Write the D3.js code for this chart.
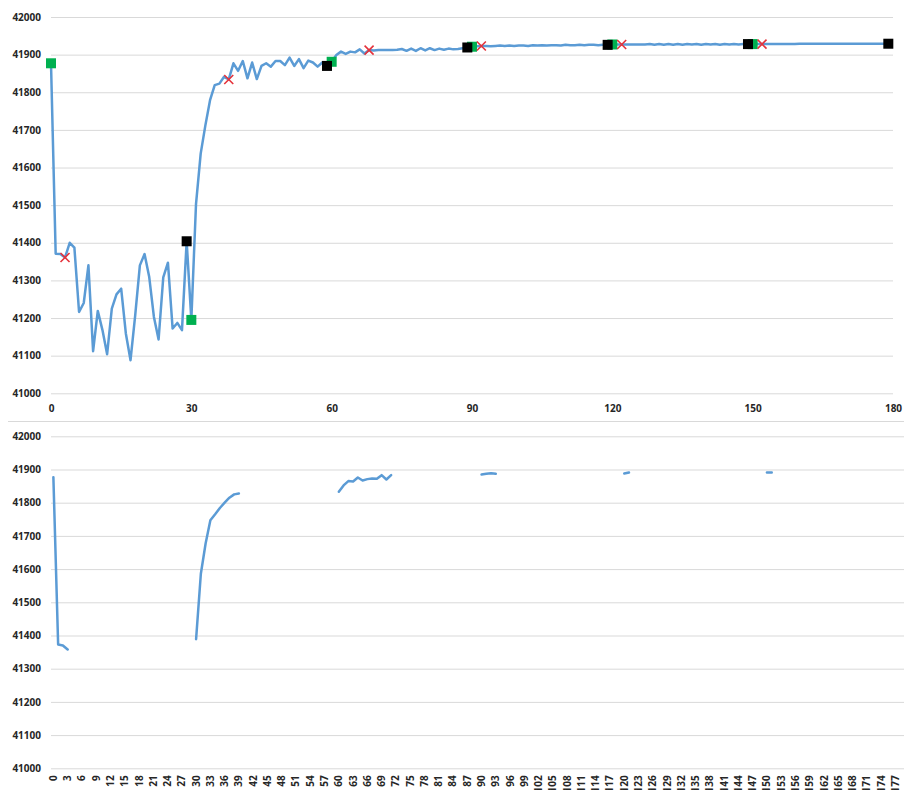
<!DOCTYPE html>
<html>
<head>
<meta charset="utf-8">
<script src="https://cdn.jsdelivr.net/npm/d3@7"></script>
<style>
  html, body { margin: 0; padding: 0; background: #fff; overflow: hidden; }
  svg { display: block; }
  .tick text { font-family: "Open Sans", sans-serif; font-weight: 700; font-size: 10px; fill: #262626; }
  .grid line { stroke: #d9d9d9; stroke-width: 1; }
</style>
</head>
<body>
<div id="chart"></div>
<script>
// upper chart: one value per step 0..179
const upperValues = [
  41877, 41371, 41370, 41361, 41400, 41387, 41216, 41240, 41340, 41112,
  41219, 41168, 41104, 41225, 41263, 41278, 41159, 41088, 41207, 41340,
  41370, 41309, 41203, 41143, 41308, 41347, 41172, 41187, 41168, 41404,
  41195, 41503, 41637, 41712, 41779, 41819, 41823, 41841, 41834, 41877,
  41857, 41883, 41837, 41879, 41835, 41870, 41877, 41868, 41883, 41883,
  41872, 41892, 41870, 41888, 41864, 41884, 41879, 41868, 41879, 41870,
  41881, 41899, 41908, 41902, 41908, 41906, 41914, 41903, 41912, 41911,
  41912, 41912, 41912, 41912, 41913, 41915, 41910, 41916, 41910, 41917,
  41911, 41917, 41912, 41916, 41913, 41916, 41914, 41915, 41917, 41919,
  41921, 41922, 41923, 41923, 41922, 41923, 41924, 41923, 41924, 41923,
  41924, 41924, 41923, 41925, 41924, 41925, 41924, 41925, 41925, 41924,
  41926, 41925, 41925, 41926, 41925, 41926, 41926, 41925, 41926, 41926,
  41927, 41927, 41927, 41927, 41927, 41927, 41927, 41927, 41928, 41926,
  41928, 41926, 41928, 41926, 41928, 41926, 41928, 41927, 41928, 41926,
  41928, 41927, 41928, 41926, 41928, 41927, 41928, 41927, 41928, 41928,
  41928, 41928, 41928, 41928, 41928, 41928, 41928, 41928, 41928, 41928,
  41929, 41929, 41929, 41929, 41929, 41929, 41929, 41929, 41929, 41929,
  41929, 41929, 41929, 41929, 41929, 41929, 41929, 41929, 41929, 41929
];
const greenIdx = [0, 30, 60, 90, 120, 150];
const blackIdx = [29, 59, 89, 119, 149, 179];
const crossIdx = [3, 38, 68, 92, 122, 152];
const upperXTicks = [0, 30, 60, 90, 120, 150, 180];
const yTicks = [41000, 41100, 41200, 41300, 41400, 41500, 41600, 41700, 41800, 41900, 42000];

// lower chart: short runs of values, each starting at a category
const lowerStarts = [0, 30, 60, 90, 120, 150];
const lowerRun0 = [41877, 41373, 41370, 41358];
const lowerRun1 = [41389, 41586, 41677, 41747, 41765, 41784, 41800, 41815, 41825, 41828];
const lowerRun2 = [41833, 41852, 41865, 41864, 41876, 41867, 41871, 41873, 41872, 41883, 41870, 41883];
const lowerRun3 = [41885, 41887, 41889, 41887];
const lowerRun4 = [41888, 41891];
const lowerRun5 = [41891, 41891];
const lowerRuns = [lowerRun0, lowerRun1, lowerRun2, lowerRun3, lowerRun4, lowerRun5];
const lowerCategories = d3.range(180);

const W = 904, H = 790;
const lineColor = "#5b9bd5";

const svg = d3.select("#chart").append("svg")
  .attr("width", W)
  .attr("height", H);

// ---------- upper chart ----------
const x1 = d3.scaleLinear().domain([0, 180]).range([51, 893]);
const y1 = d3.scaleLinear().domain([41000, 42000]).range([393.3, 17]);

svg.append("g")
  .attr("class", "grid")
  .attr("transform", `translate(${x1(0)},0)`)
  .call(d3.axisLeft(y1).tickValues(yTicks).tickFormat(d3.format("d"))
    .tickSizeInner(-(x1(180) - x1(0))).tickSizeOuter(0).tickPadding(10))
  .call(g => g.select(".domain").remove());

svg.append("g")
  .attr("transform", `translate(0,${y1(41000)})`)
  .call(d3.axisBottom(x1).tickValues(upperXTicks).tickFormat(d3.format("d"))
    .tickSize(0).tickPadding(12))
  .call(g => g.select(".domain").remove());

const upperLine = d3.line()
  .x((d, i) => x1(i))
  .y(d => y1(d));

svg.append("path")
  .datum(upperValues)
  .attr("d", upperLine)
  .attr("fill", "none")
  .attr("stroke", lineColor)
  .attr("stroke-width", 2.5)
  .attr("stroke-linejoin", "round");

const sq = 10;
svg.selectAll(".green")
  .data(greenIdx)
  .enter().append("rect")
  .attr("x", d => x1(d) - sq / 2)
  .attr("y", d => y1(upperValues[d]) - sq / 2)
  .attr("width", sq).attr("height", sq)
  .attr("fill", "#00b050");

svg.selectAll(".black")
  .data(blackIdx)
  .enter().append("rect")
  .attr("x", d => x1(d) - sq / 2)
  .attr("y", d => y1(upperValues[d]) - sq / 2)
  .attr("width", sq).attr("height", sq)
  .attr("fill", "#000");

const cr = 4.5;
svg.selectAll(".cross")
  .data(crossIdx)
  .enter().append("path")
  .attr("d", d => {
    const cx = x1(d), cy = y1(upperValues[d]);
    return `M${cx - cr},${cy - cr}L${cx + cr},${cy + cr}M${cx - cr},${cy + cr}L${cx + cr},${cy - cr}`;
  })
  .attr("stroke", "#e5323b")
  .attr("stroke-width", 1.6)
  .attr("fill", "none");

// divider between the two charts
svg.append("line")
  .attr("x1", 8).attr("x2", W)
  .attr("y1", 421.5).attr("y2", 421.5)
  .attr("stroke", "#d9d9d9");

// ---------- lower chart ----------
const x2 = d3.scaleBand().domain(lowerCategories).range([51, 907.3]);
const y2 = d3.scaleLinear().domain([41000, 42000]).range([768.3, 436.3]);

svg.append("g")
  .attr("class", "grid")
  .attr("transform", "translate(51,0)")
  .call(d3.axisLeft(y2).tickValues(yTicks).tickFormat(d3.format("d"))
    .tickSizeInner(-(907.3 - 51)).tickSizeOuter(0).tickPadding(10))
  .call(g => g.select(".domain").remove());

svg.append("g")
  .attr("transform", `translate(0,${y2(41000)})`)
  .call(d3.axisBottom(x2).tickValues(lowerCategories.filter(d => d % 3 === 0))
    .tickSize(0))
  .call(g => g.select(".domain").remove())
  .call(g => g.selectAll("text")
    .attr("transform", "rotate(-90)")
    .attr("text-anchor", "end")
    .attr("x", -7)
    .attr("y", 0)
    .attr("dy", "0.35em"));

const lowerLine = d3.line()
  .x(d => x2(d[0]) + x2.bandwidth() / 2)
  .y(d => y2(d[1]));

lowerRuns.forEach((run, k) => {
  const pts = run.map((v, i) => [lowerStarts[k] + i, v]);
  svg.append("path")
    .datum(pts)
    .attr("d", lowerLine)
    .attr("fill", "none")
    .attr("stroke", lineColor)
    .attr("stroke-width", 2.5)
    .attr("stroke-linejoin", "round")
    .attr("stroke-linecap", "round");
});
</script>
</body>
</html>
